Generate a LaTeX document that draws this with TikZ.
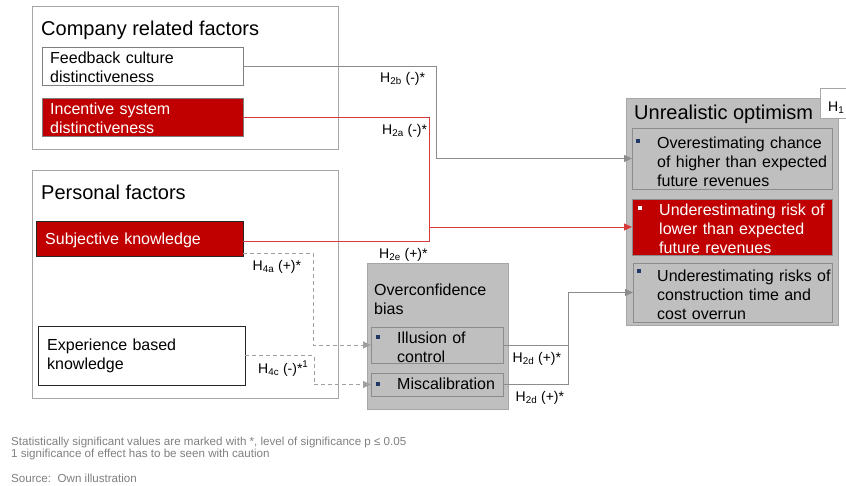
\documentclass[tikz,border=0pt]{standalone}
\usepackage{fontspec}
\setmainfont{Liberation Sans}
\usetikzlibrary{arrows.meta}

\definecolor{ured}{HTML}{C00000}
\definecolor{rlinec}{HTML}{D63A3A}
\definecolor{gfill}{HTML}{BFBFBF}
\definecolor{grpline}{HTML}{A6A6A6}
\definecolor{boxline}{HTML}{7F7F7F}
\definecolor{darkline}{HTML}{262626}
\definecolor{subline}{HTML}{8C8C8C}
\definecolor{conn}{HTML}{8C8C8C}
\definecolor{dashc}{HTML}{A0A0A0}
\definecolor{bullblue}{HTML}{1F3864}
\definecolor{notec}{HTML}{7F7F7F}

\tikzset{
  panel/.style={anchor=north west, inner sep=0pt, outer sep=0pt, line width=0.9pt},
  grp/.style={panel, draw=grpline, fill=white},
  wbox/.style={panel, draw=boxline, fill=white},
  rbox/.style={panel, draw=boxline, fill=ured},
  gbox/.style={panel, draw=grpline, fill=gfill},
  sbox/.style={panel, draw=subline, fill=gfill},
  rsub/.style={panel, draw=subline, fill=ured},
  txt/.style={anchor=base west, inner sep=0pt, align=left,
    font=\fontsize{16}{19}\selectfont},
  ttl/.style={anchor=base west, inner sep=0pt,
    font=\fontsize{20}{24}\selectfont},
  hyp/.style={anchor=base west, inner sep=0pt,
    font=\fontsize{14}{16}\selectfont},
  note/.style={anchor=base west, inner sep=0pt, text=notec,
    font=\fontsize{11.6}{13}\selectfont},
  bullet/.style={anchor=north west, inner sep=0pt, outer sep=0pt,
    minimum width=4pt, minimum height=4pt},
  tip/.style={-{Triangle[length=8pt,width=7pt]}},
  gline/.style={color=conn, line width=0.9pt},
  rline/.style={color=rlinec, line width=1pt},
  dline/.style={color=dashc, line width=0.9pt, dash pattern=on 4pt off 3pt},
}

\begin{document}
\begin{tikzpicture}[x=1pt, y=-1pt]
\useasboundingbox (0,0) rectangle (846,485);
\clip (0,0) rectangle (846,485);

% group frames
\node[grp, minimum width=306pt, minimum height=143pt] (company) at (32,6) {};
\node[grp, minimum width=306pt, minimum height=228pt] (personal) at (32,170) {};
\node[ttl] (companyT) at (41,35) {Company related factors};
\node[ttl] (personalT) at (41,199) {Personal factors};

% factor boxes
\node[wbox, minimum width=201pt, minimum height=38pt] (feedback) at (42,47) {};
\node[rbox, minimum width=201pt, minimum height=38pt] (incentive) at (42,98) {};
\node[rbox, draw=darkline, minimum width=207pt, minimum height=35pt] (subj) at (36,221) {};
\node[wbox, draw=darkline, minimum width=207pt, minimum height=59pt] (exp) at (38,326) {};

\node[txt, text width=190pt] (feedbackT) at (50,63.5) {Feedback culture\\distinctiveness};
\node[txt, text width=190pt, text=white] (incentiveT) at (50,114.3) {Incentive system\\distinctiveness};
\node[txt, text width=195pt, text=white] (subjT) at (45,244.3) {Subjective knowledge};
\node[txt, text width=195pt] (expT) at (47,350) {Experience based\\knowledge};

% overconfidence bias
\node[gbox, minimum width=141pt, minimum height=146pt] (over) at (367,263) {};
\node[sbox, minimum width=132pt, minimum height=36pt] (illusion) at (371,327) {};
\node[sbox, minimum width=132pt, minimum height=23pt] (miscal) at (371,373) {};
\node[txt, text width=130pt] (overT) at (374,295) {Overconfidence\\bias};
\node[bullet, fill=bullblue] (b1) at (375.7,335) {};
\node[bullet, fill=bullblue] (b2) at (375.7,381.7) {};
\node[txt, text width=100pt] (illusionT) at (397,343.3) {Illusion of\\control};
\node[txt, text width=105pt] (miscalT) at (397,389.3) {Miscalibration};

% unrealistic optimism
\node[gbox, minimum width=212pt, minimum height=227pt] (opt) at (626,98) {};
\node[wbox, draw=grpline, minimum width=40pt, minimum height=30pt] (h1tag) at (820,88) {};
\node[anchor=base west, inner sep=0pt, font=\fontsize{14}{16}\selectfont] (h1T) at (828,111) {H\textsubscript{1}};
\node[ttl] (optT) at (634,119.3) {Unrealistic optimism};
\node[sbox, minimum width=200pt, minimum height=61pt] (o1) at (632,128) {};
\node[rsub, minimum width=200pt, minimum height=56pt] (o2) at (632,199) {};
\node[sbox, minimum width=199pt, minimum height=59pt] (o3) at (633,263) {};
\node[bullet, fill=bullblue] (b3) at (636,139) {};
\node[bullet, fill=white] (b4) at (638,205.7) {};
\node[bullet, fill=bullblue] (b5) at (637,269) {};
\node[txt, text width=180pt] (o1T) at (657,148.3) {Overestimating chance\\of higher than expected\\future revenues};
\node[txt, text width=180pt, text=white] (o2T) at (659,215) {Underestimating risk of\\lower than expected\\future revenues};
\node[txt, text width=180pt] (o3T) at (657,281.7) {Underestimating risks of\\construction time and\\cost overrun};

% junction columns
\coordinate (gx) at (436,0);
\coordinate (rx) at (429,241.7);
\coordinate (dx) at (313,0);
\coordinate (ex) at (314,0);
\coordinate (cx) at (568,0);

% company related factors and subjective knowledge
\draw[gline, tip] (feedback.east) -- (feedback.east -| gx) |- (o1.west);
\draw[rline] (incentive.east) -| (rx) -- ([yshift=-3.2pt]subj.east);
\draw[rline, tip] (o2.west -| rx) -- (o2.west);

% personal factors to overconfidence
\draw[dline, tip] ([yshift=3pt]subj.south east) -- ([yshift=3pt]subj.south east -| dx) |- (illusion.west);
\draw[dline, tip] (exp.east) -- (exp.east -| ex) |- (miscal.west);

% overconfidence to unrealistic optimism
\draw[gline] (illusion.east) -- (illusion.east -| cx);
\draw[gline, tip] (miscal.east) -- (miscal.east -| cx) |- (o3.west);

% hypothesis labels
\node[hyp] (h2b) at (380,82) {H\textsubscript{2b} (-)*};
\node[hyp] (h2a) at (382,134) {H\textsubscript{2a} (-)*};
\node[hyp] (h2e) at (379,258.3) {H\textsubscript{2e} (+)*};
\node[hyp] (h4a) at (252.5,270) {H\textsubscript{4a} (+)*};
\node[hyp] (h4c) at (258,373) {H\textsubscript{4c} (-)*\textsuperscript{1}};
\node[hyp] (h2d1) at (512.5,362.3) {H\textsubscript{2d} (+)*};
\node[hyp] (h2d2) at (515.5,401.7) {H\textsubscript{2d} (+)*};

% notes
\node[note] (n1) at (11,445) {Statistically significant values are marked with *, level of significance p ≤ 0.05};
\node[note] (n2) at (11,457) {1 significance of effect has to be seen with caution};
\node[note] (n3) at (11,482) {Source:\ \ Own illustration};
\end{tikzpicture}
\end{document}
